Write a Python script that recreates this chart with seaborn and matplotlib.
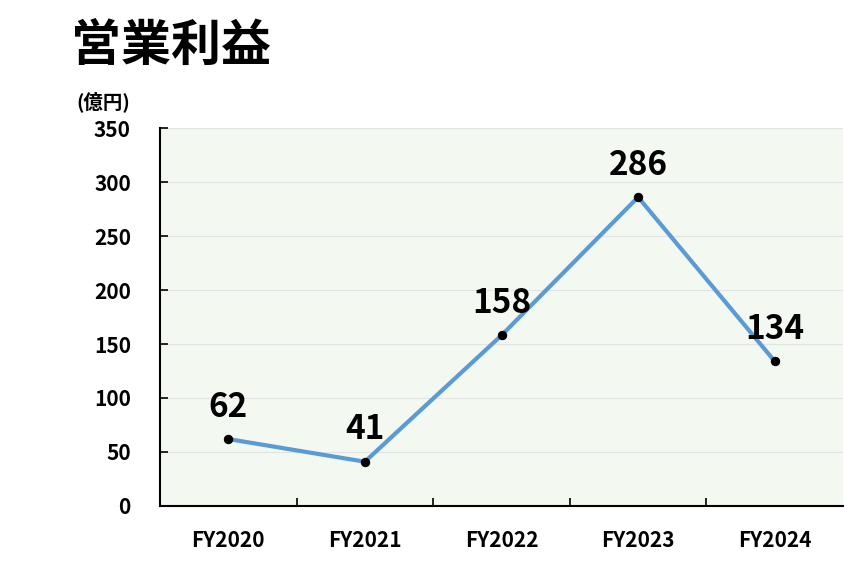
import matplotlib
matplotlib.use("Agg")
import matplotlib.pyplot as plt
import seaborn as sns
import pandas as pd
from matplotlib.ticker import MultipleLocator, FixedLocator

categories = ["FY2020", "FY2021", "FY2022", "FY2023", "FY2024"]
values = [62, 41, 158, 286, 134]
title = "営業利益"
unit = "(億円)"

sns.set_theme(style="white")
plt.rcParams['font.family'] = ['Noto Sans CJK JP', 'DejaVu Sans']
plt.rcParams['text.color'] = 'black'
plt.rcParams['xtick.color'] = 'black'
plt.rcParams['ytick.color'] = 'black'
plt.rcParams['xtick.labelcolor'] = 'black'
plt.rcParams['ytick.labelcolor'] = 'black'

df = pd.DataFrame({"year": categories, "value": values})
df["pos"] = range(len(categories))

fig = plt.figure(figsize=(8.66, 5.66), dpi=100)
ax = fig.add_axes([160/866, 1-506/566, 683/866, 378/566])
ax.set_facecolor("#F3F8F0")

sns.lineplot(data=df, x="pos", y="value", ax=ax, color="#5B9BD5", linewidth=3,
             marker="o", markersize=6, markerfacecolor="black", markeredgecolor="black",
             zorder=3)

for p, v in zip(df["pos"], df["value"]):
    ax.annotate(str(v), (p, v), xytext=(0, 11), textcoords="offset points",
                ha="center", va="bottom", fontsize=24, fontweight="bold", color="black",
                zorder=4)

ax.set_xlim(-0.5, len(categories) - 0.5)
ax.set_ylim(0, 350)
ax.yaxis.set_major_locator(MultipleLocator(50))
ax.grid(axis="y", color="#E3E3E3", linewidth=0.8)
ax.set_axisbelow(True)

ax.set_xticks(range(len(categories)))
ax.set_xticklabels(categories)
ax.xaxis.set_minor_locator(FixedLocator([0.5, 1.5, 2.5, 3.5]))
ax.tick_params(axis="x", which="major", length=0, pad=17, labelsize=15, labelcolor="black")
ax.tick_params(axis="x", which="minor", direction="in", length=6, width=1.2, color="black", bottom=True)
ax.tick_params(axis="y", which="major", direction="in", length=6, width=1.2, color="black",
               pad=21, labelsize=15, left=True, labelcolor="black")
for lab in ax.get_xticklabels() + ax.get_yticklabels():
    lab.set_fontweight("bold")

ax.set_xlabel("")
ax.set_ylabel("")
for s in ["top", "right"]:
    ax.spines[s].set_visible(False)
for s in ["left", "bottom"]:
    ax.spines[s].set_color("black")
    ax.spines[s].set_linewidth(1.5)

fig.text(71/866, 1-46/566, title, fontsize=36, fontweight="bold", ha="left", va="center", color="black")
fig.text(76/866, 1-102/566, unit, fontsize=14, fontweight="bold", ha="left", va="center", color="black")

fig.savefig("out.png", dpi=100)
